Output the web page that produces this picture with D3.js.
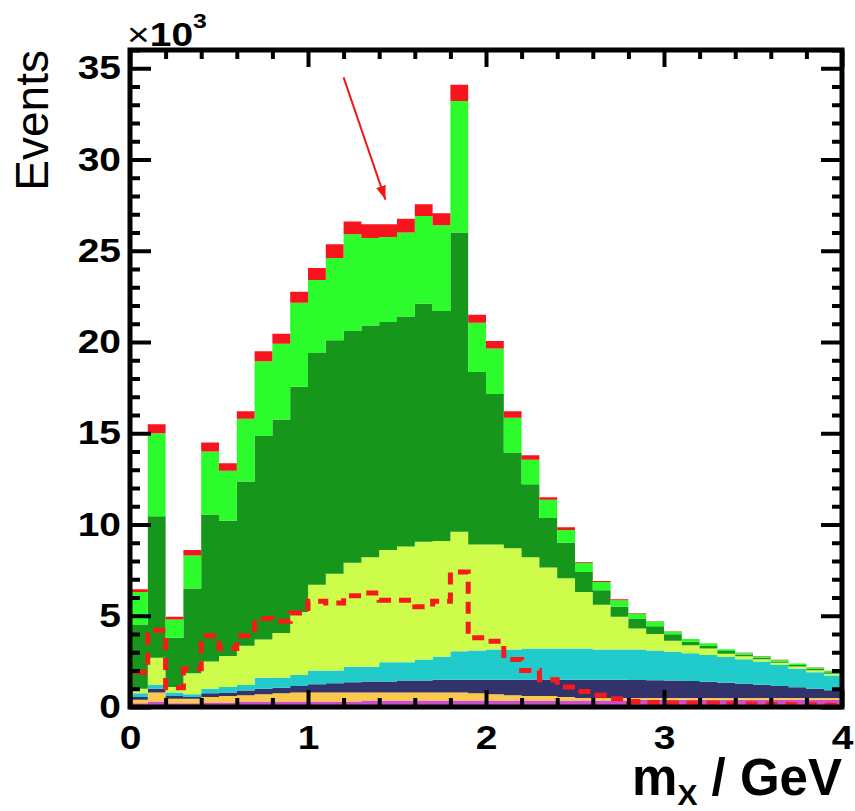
<!DOCTYPE html>
<html>
<head>
<meta charset="utf-8">
<script src="https://cdn.jsdelivr.net/npm/d3@7"></script>
<style>
  body { margin: 0; background: #fff; }
  svg { display: block; font-family: "Liberation Sans", Arial, sans-serif; }
</style>
</head>
<body>
<script>
// Chart dimensions and margins.
const width = 855;
const height = 811;
const marginTop = 50;
const marginRight = 13;
const marginBottom = 104;
const marginLeft = 130;

// Lower edges of the 40 bins in m_X (GeV), 0.1 GeV wide.
const binLow = [0.0, 0.1, 0.2, 0.3, 0.4, 0.5, 0.6, 0.7, 0.8, 0.9,
  1.0, 1.1, 1.2, 1.3, 1.4, 1.5, 1.6, 1.7, 1.8, 1.9,
  2.0, 2.1, 2.2, 2.3, 2.4, 2.5, 2.6, 2.7, 2.8, 2.9,
  3.0, 3.1, 3.2, 3.3, 3.4, 3.5, 3.6, 3.7, 3.8, 3.9];
const binWidth = 0.1;

// Stacked components, bottom to top (events / 10^3 per bin).
const magenta = [0.2, 0.3, 0.2, 0.2, 0.25, 0.25, 0.3, 0.3, 0.3, 0.3,
  0.3, 0.3, 0.3, 0.35, 0.35, 0.35, 0.35, 0.35, 0.35, 0.35,
  0.35, 0.35, 0.35, 0.35, 0.35, 0.35, 0.35, 0.35, 0.4, 0.4,
  0.4, 0.4, 0.4, 0.4, 0.4, 0.4, 0.4, 0.4, 0.4, 0.4];
const orange = [0.2, 0.5, 0.25, 0.25, 0.3, 0.35, 0.35, 0.4, 0.45, 0.5,
  0.5, 0.5, 0.5, 0.45, 0.45, 0.45, 0.45, 0.45, 0.45, 0.4,
  0.35, 0.3, 0.25, 0.25, 0.2, 0.15, 0.15, 0.15, 0.1, 0.1,
  0.1, 0.1, 0.1, 0.1, 0.1, 0.1, 0.1, 0.1, 0.1, 0.1];
const navy = [0.15, 0.2, 0.15, 0.1, 0.2, 0.2, 0.25, 0.3, 0.3, 0.35,
  0.45, 0.5, 0.55, 0.6, 0.6, 0.65, 0.65, 0.7, 0.7, 0.75,
  0.8, 0.85, 0.9, 0.9, 0.95, 1.0, 1.0, 1.0, 0.98, 0.97,
  0.95, 0.92, 0.88, 0.83, 0.78, 0.72, 0.65, 0.58, 0.5, 0.42];
const cyan = [0.2, 0.2, 0.2, 0.15, 0.25, 0.3, 0.3, 0.6, 0.55, 0.6,
  0.75, 0.7, 0.85, 0.8, 1.05, 1.0, 1.15, 1.25, 1.55, 1.6,
  1.65, 1.65, 1.7, 1.7, 1.7, 1.7, 1.65, 1.65, 1.67, 1.63,
  1.58, 1.52, 1.47, 1.41, 1.34, 1.28, 1.15, 1.02, 0.9, 0.8];
const yellowGreen = [0.25, 1.5, 0.3, 1.15, 1.5, 1.7, 2.15, 2.1, 2.45, 3.45,
  4.7, 5.3, 5.7, 6.0, 6.15, 6.35, 6.45, 6.35, 6.55, 5.8,
  5.75, 5.55, 5.0, 4.45, 3.85, 3.1, 2.45, 1.8, 1.15, 0.9,
  0.6, 0.45, 0.36, 0.18, 0.16, 0.12, 0.12, 0.12, 0.12, 0.1];
const darkGreen = [3.5, 7.75, 2.7, 4.65, 8.05, 7.4, 9.0, 11.15, 11.7, 12.35,
  12.7, 12.8, 12.7, 12.7, 12.5, 12.6, 13.05, 12.6, 16.4, 9.45,
  8.25, 5.25, 4.0, 2.7, 1.95, 1.1, 0.8, 0.55, 0.55, 0.43,
  0.35, 0.18, 0.13, 0.15, 0.1, 0.08, 0.08, 0.08, 0.08, 0.08];
const lightGreen = [1.8, 4.55, 1.0, 1.8, 3.45, 2.75, 3.45, 4.1, 4.15, 4.6,
  4.0, 4.5, 5.3, 4.8, 4.65, 4.6, 4.8, 4.7, 7.2, 2.7,
  2.5, 1.9, 1.35, 1.0, 0.7, 0.5, 0.45, 0.35, 0.27, 0.25,
  0.16, 0.15, 0.15, 0.09, 0.08, 0.08, 0.08, 0.08, 0.07, 0.07];
const redTop = [0.15, 0.5, 0.15, 0.3, 0.5, 0.4, 0.4, 0.55, 0.55, 0.6,
  0.65, 0.75, 0.7, 0.75, 0.7, 0.75, 0.65, 0.65, 0.9, 0.45,
  0.4, 0.35, 0.25, 0.15, 0.15, 0.05, 0.05, 0.05, 0.03, 0.02,
  0.01, 0.01, 0.01, 0.01, 0.01, 0.01, 0.01, 0.01, 0.01, 0.01];

// Overlaid (unstacked) dashed histogram.
const dashed = [1.9, 4.2, 1.05, 2.1, 3.9, 3.2, 3.9, 4.85, 4.7, 5.15,
  5.8, 5.7, 6.1, 6.25, 5.85, 5.85, 5.5, 5.8, 7.4, 3.8,
  3.6, 2.6, 2.0, 1.5, 1.1, 0.85, 0.65, 0.45, 0.3, 0.25,
  0.22, 0.2, 0.2, 0.18, 0.16, 0.15, 0.14, 0.13, 0.12, 0.1];

// Axis ticks.
const xMajor = [0, 1, 2, 3, 4];
const xMinor = [0.2, 0.4, 0.6, 0.8, 1.2, 1.4, 1.6, 1.8, 2.2, 2.4, 2.6, 2.8, 3.2, 3.4, 3.6, 3.8];
const yMajor = [0, 5, 10, 15, 20, 25, 30, 35];
const yMinor = [1, 2, 3, 4, 6, 7, 8, 9, 11, 12, 13, 14, 16, 17, 18, 19,
  21, 22, 23, 24, 26, 27, 28, 29, 31, 32, 33, 34, 36];

// Annotation arrow (data coordinates).
const arrowFrom = [1.2, 34.5];
const arrowTo = [1.435, 27.8];

const keys = ["magenta", "orange", "navy", "cyan", "yellowGreen", "darkGreen", "lightGreen", "redTop"];
const colors = {
  magenta: "#cc4fcc",
  orange: "#fcc84a",
  navy: "#33336b",
  cyan: "#22cbcb",
  yellowGreen: "#cdfc4b",
  darkGreen: "#16961a",
  lightGreen: "#2cfc2c",
  redTop: "#f8141e",
};
const series = { magenta, orange, navy, cyan, yellowGreen, darkGreen, lightGreen, redTop };
const table = binLow.map((b, i) => {
  const row = { bin: b };
  keys.forEach((k) => (row[k] = series[k][i]));
  return row;
});

// The labels of the original are wider than Arial; stretch them a little.
const stretch = 1.18;

const x = d3.scaleLinear([0, 4], [marginLeft, width - marginRight]);
const y = d3.scaleLinear([0, 36], [height - marginBottom, marginTop]);

const svg = d3
  .select("body")
  .append("svg")
  .attr("width", width)
  .attr("height", height)
  .attr("viewBox", [0, 0, width, height]);

svg.append("clipPath").attr("id", "plot")
  .append("rect")
  .attr("x", marginLeft).attr("y", marginTop)
  .attr("width", width - marginLeft - marginRight)
  .attr("height", height - marginTop - marginBottom);

// Stacked histogram layers drawn as step areas.
const stacked = d3.stack().keys(keys)(table);
const area = d3.area()
  .curve(d3.curveStepAfter)
  .x((d) => x(d.edge))
  .y0((d) => y(d.lo))
  .y1((d) => y(d.hi));

const layers = svg.append("g").attr("clip-path", "url(#plot)");
stacked.forEach((s) => {
  const pts = s.map((d, i) => ({ edge: binLow[i], lo: d[0], hi: d[1] }));
  const last = pts[pts.length - 1];
  pts.push({ edge: last.edge + binWidth, lo: last.lo, hi: last.hi });
  layers.append("path")
    .attr("fill", colors[s.key])
    .attr("d", area(pts));
});

// Dashed overlay histogram.
const stepLine = d3.line()
  .curve(d3.curveStepAfter)
  .x((d) => x(d[0]))
  .y((d) => y(d[1]));
const dashPts = [[0, 0]].concat(binLow.map((b, i) => [b, dashed[i]]));
dashPts.push([binLow[binLow.length - 1] + binWidth, dashed[dashed.length - 1]]);
layers.append("path")
  .attr("fill", "none")
  .attr("stroke", "#f81a1a")
  .attr("stroke-width", 5)
  .attr("stroke-dasharray", "12,8")
  .attr("d", stepLine(dashPts));

// Axes: ticks on all four sides, labels bottom and left.
function styleAxis(g) {
  g.select(".domain").remove();
  g.selectAll(".tick line").attr("stroke-width", 4);
  g.selectAll(".tick text")
    .attr("font-size", 33)
    .attr("font-weight", "bold")
    .attr("fill", "#000")
    .attr("x", function () { return +d3.select(this).attr("x") / stretch || 0; })
    .attr("transform", `scale(${stretch},1)`);
}
const x0 = height - marginBottom;
svg.append("g").attr("transform", `translate(0,${x0})`)
  .call(d3.axisBottom(x).tickValues(xMajor).tickSizeInner(-17).tickSizeOuter(0)
    .tickPadding(19).tickFormat(d3.format("d")))
  .call(styleAxis);
svg.append("g").attr("transform", `translate(0,${x0})`)
  .call(d3.axisBottom(x).tickValues(xMinor).tickSizeInner(-9).tickSizeOuter(0).tickFormat(""))
  .call(styleAxis);
svg.append("g").attr("transform", `translate(0,${marginTop})`)
  .call(d3.axisTop(x).tickValues(xMajor).tickSizeInner(-17).tickSizeOuter(0).tickFormat(""))
  .call(styleAxis);
svg.append("g").attr("transform", `translate(0,${marginTop})`)
  .call(d3.axisTop(x).tickValues(xMinor).tickSizeInner(-9).tickSizeOuter(0).tickFormat(""))
  .call(styleAxis);
svg.append("g").attr("transform", `translate(${marginLeft},0)`)
  .call(d3.axisLeft(y).tickValues(yMajor).tickSizeInner(-21).tickSizeOuter(0).tickPadding(9))
  .call(styleAxis);
svg.append("g").attr("transform", `translate(${marginLeft},0)`)
  .call(d3.axisLeft(y).tickValues(yMinor).tickSizeInner(-10).tickSizeOuter(0).tickFormat(""))
  .call(styleAxis);
svg.append("g").attr("transform", `translate(${width - marginRight},0)`)
  .call(d3.axisRight(y).tickValues(yMajor).tickSizeInner(-21).tickSizeOuter(0).tickFormat(""))
  .call(styleAxis);
svg.append("g").attr("transform", `translate(${width - marginRight},0)`)
  .call(d3.axisRight(y).tickValues(yMinor).tickSizeInner(-10).tickSizeOuter(0).tickFormat(""))
  .call(styleAxis);

// Frame.
svg.append("rect")
  .attr("x", marginLeft).attr("y", marginTop)
  .attr("width", width - marginLeft - marginRight)
  .attr("height", height - marginTop - marginBottom)
  .attr("fill", "none")
  .attr("stroke", "#000")
  .attr("stroke-width", 5);

// Multiplier above the y axis.
const mult = svg.append("text")
  .attr("transform", `translate(${marginLeft - 3},46) scale(${stretch},1)`)
  .attr("fill", "#000");
mult.append("tspan").attr("font-size", 33).text("×");
mult.append("tspan").attr("font-size", 33).attr("font-weight", "bold").text("10");
mult.append("tspan").attr("font-size", 21).attr("font-weight", "bold").attr("dy", -18).text("3");

// Axis titles.
svg.append("text")
  .attr("transform", "rotate(-90)")
  .attr("x", -marginTop)
  .attr("y", 48)
  .attr("text-anchor", "end")
  .attr("font-size", 46)
  .attr("fill", "#000")
  .text("Events");

const xt = svg.append("text")
  .attr("x", width - marginRight)
  .attr("y", 795)
  .attr("text-anchor", "end")
  .attr("font-size", 51)
  .attr("font-weight", "bold")
  .attr("fill", "#000");
xt.append("tspan").text("m");
xt.append("tspan").attr("font-size", 30).attr("dy", 10).text("X");
xt.append("tspan").attr("dy", -10).text(" / GeV");

// Arrow annotation.
svg.append("defs").append("marker")
  .attr("id", "head")
  .attr("markerUnits", "userSpaceOnUse")
  .attr("viewBox", "0 0 14 10")
  .attr("refX", 14).attr("refY", 5)
  .attr("markerWidth", 14).attr("markerHeight", 10)
  .attr("orient", "auto")
  .append("path").attr("d", "M0,0L14,5L0,10Z").attr("fill", "#f01818");
svg.append("line")
  .attr("x1", x(arrowFrom[0])).attr("y1", y(arrowFrom[1]))
  .attr("x2", x(arrowTo[0])).attr("y2", y(arrowTo[1]))
  .attr("stroke", "#f01818")
  .attr("stroke-width", 2)
  .attr("marker-end", "url(#head)");
</script>
</body>
</html>
